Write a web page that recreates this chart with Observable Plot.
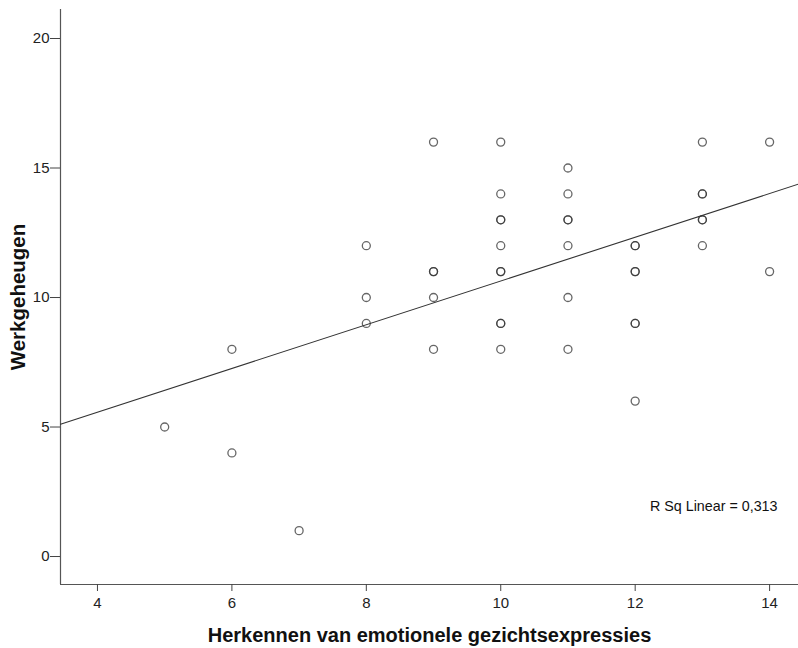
<!DOCTYPE html>
<html>
<head>
<meta charset="utf-8">
<script src="https://cdn.jsdelivr.net/npm/d3@7"></script>
<script src="https://cdn.jsdelivr.net/npm/@observablehq/plot@0.6"></script>
<style>
  html, body { margin: 0; padding: 0; background: #fff; }
</style>
</head>
<body>
<div id="chart"></div>
<script>
// Herkennen van emotionele gezichtsexpressies (x) vs Werkgeheugen (y)
const herkennen    = [5, 6, 6, 7, 8, 8, 8, 9, 9, 9, 9, 9, 10, 10, 10, 10, 10, 10, 10, 10, 10, 10, 11, 11, 11, 11, 11, 11, 11, 12, 12, 12, 12, 12, 12, 12, 13, 13, 13, 13, 13, 13, 14, 14];
const werkgeheugen = [5, 8, 4, 1, 12, 10, 9, 16, 11, 11, 10, 8, 16, 14, 13, 13, 12, 11, 11, 9, 9, 8, 15, 14, 13, 13, 12, 10, 8, 12, 12, 11, 11, 9, 9, 6, 16, 14, 14, 13, 13, 12, 16, 11];
const xTicks = [4, 6, 8, 10, 12, 14];
const yTicks = [0, 5, 10, 15, 20];
const rSqLabel = "R Sq Linear = 0,313";
const xTitle = "Herkennen van emotionele gezichtsexpressies";
const yTitle = "Werkgeheugen";

const points = herkennen.map((x, i) => ({x, y: werkgeheugen[i]}));

// least-squares fit computed from the data
const mx = d3.mean(herkennen), my = d3.mean(werkgeheugen);
const sxy = d3.sum(points, d => (d.x - mx) * (d.y - my));
const sxx = d3.sum(points, d => (d.x - mx) ** 2);
const slope = sxy / sxx, intercept = my - slope * mx;

const xDomain = [3.45, 14.43];
const yDomain = [-1.08, 21.12];
const fitLine = xDomain.map(x => ({x, y: intercept + slope * x}));

const tickFont = "'Liberation Sans Narrow', 'Arial Narrow', 'Liberation Sans', Arial, sans-serif";

const chart = Plot.plot({
  width: 798,
  height: 648,
  marginLeft: 60,
  marginRight: 0,
  marginTop: 9,
  marginBottom: 64,
  x: {domain: xDomain},
  y: {domain: yDomain},
  style: {fontFamily: "'Liberation Sans', Arial, sans-serif", fontSize: "12px", color: "#222", background: "#fff"},
  marks: [
    Plot.ruleX([xDomain[0]], {stroke: "#555", strokeWidth: 1.2}),
    Plot.ruleY([yDomain[0]], {stroke: "#555", strokeWidth: 1.2}),
    Plot.axisX({ticks: xTicks, tickSize: 7, tickPadding: 6, label: null, stroke: "#444", fill: "#222", fontSize: 15, fontFamily: tickFont}),
    Plot.axisY({ticks: yTicks, tickSize: 10, tickPadding: 1, label: null, stroke: "#444", fill: "#222", fontSize: 15, fontFamily: tickFont}),
    Plot.line(fitLine, {x: "x", y: "y", stroke: "#333", strokeWidth: 1.1, clip: true}),
    Plot.dot(points, {x: "x", y: "y", r: 4, stroke: "#333", strokeOpacity: 0.75, strokeWidth: 1.3, fill: "none"}),
    Plot.text([rSqLabel], {frameAnchor: "bottom-right", text: d => d, textAnchor: "end", lineAnchor: "middle", dx: -21, dy: -78, fontSize: 14.3, fill: "#111"}),
    Plot.text([xTitle], {frameAnchor: "bottom", text: d => d, textAnchor: "middle", lineAnchor: "middle", dy: 51, fontSize: 20, fontWeight: "bold", fill: "#111"}),
    Plot.text([yTitle], {frameAnchor: "left", text: d => d, textAnchor: "middle", lineAnchor: "middle", dx: -42, rotate: -90, fontSize: 20.5, fontWeight: "bold", fill: "#111"})
  ]
});
document.getElementById("chart").appendChild(chart);
</script>
</body>
</html>
